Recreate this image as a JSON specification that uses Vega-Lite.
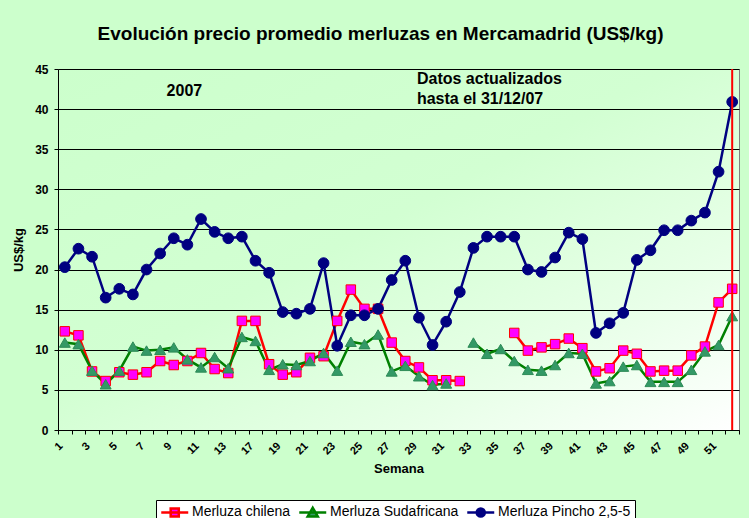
{
  "$schema": "https://vega.github.io/schema/vega-lite/v6.json",
  "width": 681,
  "height": 361,
  "autosize": "none",
  "padding": {"left": 58, "top": 69, "right": 10, "bottom": 88},
  "background": "#CCFFCC",
  "title": {"text": "Evolución precio promedio merluzas en Mercamadrid (US$/kg)", "font": "Liberation Sans", "fontSize": 19, "fontWeight": "bold", "color": "#000000", "anchor": "middle", "offset": 19, "dx": -18},
  "view": {"fill": {"gradient": "linear", "x1": 0, "y1": 0, "x2": 1, "y2": 1, "stops": [{"offset": 0, "color": "#CCFFCC"}, {"offset": 0.45, "color": "#D2FFD2"}, {"offset": 0.75, "color": "#E8FFE8"}, {"offset": 1, "color": "#FFFFFF"}]}, "stroke": "#808080", "strokeWidth": 1},
  "config": {
    "axis": {"labelFont": "Liberation Sans", "titleFont": "Liberation Sans", "labelColor": "#000000", "titleColor": "#000000", "labelFontWeight": "bold", "titleFontWeight": "bold", "domainColor": "#000000", "tickColor": "#000000", "tickSize": 4}
  },
  "data": {"values": [
    {"semana": "1", "Merluza chilena": 12.3, "Merluza Sudafricana": 10.9, "Merluza Pincho 2,5-5": 20.3},
    {"semana": "2", "Merluza chilena": 11.8, "Merluza Sudafricana": 10.7, "Merluza Pincho 2,5-5": 22.6},
    {"semana": "3", "Merluza chilena": 7.3, "Merluza Sudafricana": 7.4, "Merluza Pincho 2,5-5": 21.6},
    {"semana": "4", "Merluza chilena": 6.1, "Merluza Sudafricana": 5.7, "Merluza Pincho 2,5-5": 16.5},
    {"semana": "5", "Merluza chilena": 7.2, "Merluza Sudafricana": 7.4, "Merluza Pincho 2,5-5": 17.6},
    {"semana": "6", "Merluza chilena": 6.9, "Merluza Sudafricana": 10.4, "Merluza Pincho 2,5-5": 16.9},
    {"semana": "7", "Merluza chilena": 7.2, "Merluza Sudafricana": 9.9, "Merluza Pincho 2,5-5": 20.0},
    {"semana": "8", "Merluza chilena": 8.6, "Merluza Sudafricana": 10.0, "Merluza Pincho 2,5-5": 22.0},
    {"semana": "9", "Merluza chilena": 8.1, "Merluza Sudafricana": 10.3, "Merluza Pincho 2,5-5": 23.9},
    {"semana": "10", "Merluza chilena": 8.6, "Merluza Sudafricana": 8.8, "Merluza Pincho 2,5-5": 23.1},
    {"semana": "11", "Merluza chilena": 9.6, "Merluza Sudafricana": 7.8, "Merluza Pincho 2,5-5": 26.3},
    {"semana": "12", "Merluza chilena": 7.6, "Merluza Sudafricana": 9.1, "Merluza Pincho 2,5-5": 24.7},
    {"semana": "13", "Merluza chilena": 7.1, "Merluza Sudafricana": 7.7, "Merluza Pincho 2,5-5": 23.9},
    {"semana": "15", "Merluza chilena": 13.6, "Merluza Sudafricana": 11.6, "Merluza Pincho 2,5-5": 24.1},
    {"semana": "17", "Merluza chilena": 13.6, "Merluza Sudafricana": 11.1, "Merluza Pincho 2,5-5": 21.1},
    {"semana": "18", "Merluza chilena": 8.2, "Merluza Sudafricana": 7.5, "Merluza Pincho 2,5-5": 19.6},
    {"semana": "19", "Merluza chilena": 6.9, "Merluza Sudafricana": 8.2, "Merluza Pincho 2,5-5": 14.7},
    {"semana": "20", "Merluza chilena": 7.2, "Merluza Sudafricana": 8.1, "Merluza Pincho 2,5-5": 14.5},
    {"semana": "21", "Merluza chilena": 9.0, "Merluza Sudafricana": 8.6, "Merluza Pincho 2,5-5": 15.1},
    {"semana": "22", "Merluza chilena": 9.2, "Merluza Sudafricana": 9.6, "Merluza Pincho 2,5-5": 20.8},
    {"semana": "23", "Merluza chilena": 13.6, "Merluza Sudafricana": 7.4, "Merluza Pincho 2,5-5": 10.5},
    {"semana": "24", "Merluza chilena": 17.5, "Merluza Sudafricana": 11.0, "Merluza Pincho 2,5-5": 14.3},
    {"semana": "25", "Merluza chilena": 15.1, "Merluza Sudafricana": 10.7, "Merluza Pincho 2,5-5": 14.3},
    {"semana": "26", "Merluza chilena": 15.1, "Merluza Sudafricana": 11.9, "Merluza Pincho 2,5-5": 15.1},
    {"semana": "27", "Merluza chilena": 10.9, "Merluza Sudafricana": 7.3, "Merluza Pincho 2,5-5": 18.7},
    {"semana": "28", "Merluza chilena": 8.6, "Merluza Sudafricana": 8.0, "Merluza Pincho 2,5-5": 21.1},
    {"semana": "29", "Merluza chilena": 7.8, "Merluza Sudafricana": 6.7, "Merluza Pincho 2,5-5": 14.0},
    {"semana": "30", "Merluza chilena": 6.2, "Merluza Sudafricana": 5.6, "Merluza Pincho 2,5-5": 10.6},
    {"semana": "31", "Merluza chilena": 6.2, "Merluza Sudafricana": 5.8, "Merluza Pincho 2,5-5": 13.5},
    {"semana": "32", "Merluza chilena": 6.1, "Merluza Sudafricana": null, "Merluza Pincho 2,5-5": 17.2},
    {"semana": "33", "Merluza chilena": null, "Merluza Sudafricana": 10.9, "Merluza Pincho 2,5-5": 22.7},
    {"semana": "34", "Merluza chilena": null, "Merluza Sudafricana": 9.5, "Merluza Pincho 2,5-5": 24.1},
    {"semana": "35", "Merluza chilena": null, "Merluza Sudafricana": 10.1, "Merluza Pincho 2,5-5": 24.1},
    {"semana": "36", "Merluza chilena": 12.1, "Merluza Sudafricana": 8.6, "Merluza Pincho 2,5-5": 24.1},
    {"semana": "37", "Merluza chilena": 9.9, "Merluza Sudafricana": 7.5, "Merluza Pincho 2,5-5": 20.0},
    {"semana": "38", "Merluza chilena": 10.3, "Merluza Sudafricana": 7.4, "Merluza Pincho 2,5-5": 19.7},
    {"semana": "39", "Merluza chilena": 10.7, "Merluza Sudafricana": 8.1, "Merluza Pincho 2,5-5": 21.5},
    {"semana": "40", "Merluza chilena": 11.4, "Merluza Sudafricana": 9.6, "Merluza Pincho 2,5-5": 24.6},
    {"semana": "41", "Merluza chilena": 10.2, "Merluza Sudafricana": 9.5, "Merluza Pincho 2,5-5": 23.8},
    {"semana": "42", "Merluza chilena": 7.3, "Merluza Sudafricana": 5.8, "Merluza Pincho 2,5-5": 12.1},
    {"semana": "43", "Merluza chilena": 7.7, "Merluza Sudafricana": 6.1, "Merluza Pincho 2,5-5": 13.3},
    {"semana": "44", "Merluza chilena": 9.9, "Merluza Sudafricana": 7.9, "Merluza Pincho 2,5-5": 14.6},
    {"semana": "45", "Merluza chilena": 9.5, "Merluza Sudafricana": 8.1, "Merluza Pincho 2,5-5": 21.2},
    {"semana": "46", "Merluza chilena": 7.3, "Merluza Sudafricana": 6.0, "Merluza Pincho 2,5-5": 22.4},
    {"semana": "47", "Merluza chilena": 7.4, "Merluza Sudafricana": 6.0, "Merluza Pincho 2,5-5": 24.9},
    {"semana": "48", "Merluza chilena": 7.4, "Merluza Sudafricana": 6.0, "Merluza Pincho 2,5-5": 24.9},
    {"semana": "49", "Merluza chilena": 9.3, "Merluza Sudafricana": 7.5, "Merluza Pincho 2,5-5": 26.1},
    {"semana": "50", "Merluza chilena": 10.4, "Merluza Sudafricana": 9.8, "Merluza Pincho 2,5-5": 27.1},
    {"semana": "51", "Merluza chilena": 15.9, "Merluza Sudafricana": 10.6, "Merluza Pincho 2,5-5": 32.2},
    {"semana": "52", "Merluza chilena": 17.6, "Merluza Sudafricana": 14.2, "Merluza Pincho 2,5-5": 40.9}
  ]},
  "transform": [{"fold": ["Merluza chilena", "Merluza Sudafricana", "Merluza Pincho 2,5-5"], "as": ["serie", "precio"]}],
  "layer": [
    {
      "mark": {"type": "line", "strokeWidth": 2.5, "invalid": "break-paths-show-domains"},
      "encoding": {
        "x": {"field": "semana", "type": "ordinal",
          "scale": {"type": "band", "paddingInner": 0, "paddingOuter": 0, "domain": ["1","2","3","4","5","6","7","8","9","10","11","12","13","15","17","18","19","20","21","22","23","24","25","26","27","28","29","30","31","32","33","34","35","36","37","38","39","40","41","42","43","44","45","46","47","48","49","50","51","52"]},
          "axis": {"title": "Semana", "titleFontSize": 13, "titlePadding": 6, "labelFontSize": 11, "labelAngle": -45, "labelAlign": "right", "labelBaseline": "middle", "labelPadding": 10, "labelOffset": -4, "tickBand": "extent", "labelOverlap": false, "labelBound": false, "labelFlush": false, "grid": false,
            "labelExpr": "indexof(['1','3','5','7','9','11','13','17','19','21','23','25','27','29','31','33','35','37','39','41','43','45','47','49','51'], datum.value) >= 0 ? datum.label : ''"}},
        "y": {"field": "precio", "type": "quantitative", "scale": {"domain": [0, 45], "nice": false},
          "axis": {"title": "US$/kg", "titleFontSize": 13, "titlePadding": 9, "labelFontSize": 12, "labelPadding": 6, "values": [0, 5, 10, 15, 20, 25, 30, 35, 40, 45], "grid": true, "gridColor": "#000000", "gridWidth": 1}},
        "stroke": {"field": "serie", "type": "nominal",
          "scale": {"domain": ["Merluza chilena", "Merluza Sudafricana", "Merluza Pincho 2,5-5"], "range": ["#FF0000", "#008000", "#000080"]},
          "legend": {"title": null, "orient": "none", "legendX": 98, "legendY": 431, "direction": "horizontal", "fillColor": "#FFFFFF", "strokeColor": "#000000", "padding": 4,
            "labelFont": "Liberation Sans", "labelFontSize": 14, "labelColor": "#000000", "symbolSize": 182, "labelOffset": 16, "columnPadding": 3, "symbolStrokeWidth": 2.5, "symbolOpacity": 1,
            "symbolType": {"expr": "datum.value === 'Merluza chilena' ? 'M-1,0H3M0.4,-0.6H1.6V0.6H0.4Z' : datum.value === 'Merluza Sudafricana' ? 'M-1,0H3M1,-0.7L1.75,0.6H0.25Z' : 'M-1,0H3M0.4,0A0.6,0.6 0 1,0 1.6,0A0.6,0.6 0 1,0 0.4,0Z'"},
            "symbolFillColor": {"expr": "datum.value === 'Merluza chilena' ? '#FF00FF' : datum.value === 'Merluza Sudafricana' ? '#339966' : '#000080'"}}
        }
      }
    },
    {
      "transform": [{"filter": "datum.serie === 'Merluza chilena'"}],
      "mark": {"type": "point", "shape": "square", "filled": true, "opacity": 1, "fill": "#FF00FF", "stroke": "#FF0000", "strokeWidth": 1, "size": 90},
      "encoding": {"x": {"field": "semana", "type": "ordinal"}, "y": {"field": "precio", "type": "quantitative"}}
    },
    {
      "transform": [{"filter": "datum.serie === 'Merluza Sudafricana'"}],
      "mark": {"type": "point", "shape": "triangle-up", "filled": true, "opacity": 1, "fill": "#339966", "stroke": "#2E8B57", "strokeWidth": 1, "size": 120},
      "encoding": {"x": {"field": "semana", "type": "ordinal"}, "y": {"field": "precio", "type": "quantitative"}}
    },
    {
      "transform": [{"filter": "datum.serie === 'Merluza Pincho 2,5-5'"}],
      "mark": {"type": "point", "shape": "circle", "filled": true, "opacity": 1, "fill": "#000080", "stroke": "#000080", "strokeWidth": 1, "size": 115},
      "encoding": {"x": {"field": "semana", "type": "ordinal"}, "y": {"field": "precio", "type": "quantitative"}}
    },
    {
      "data": {"values": [{"semana": "52"}]},
      "mark": {"type": "rule", "color": "#FF0000", "strokeWidth": 2},
      "encoding": {"x": {"field": "semana", "type": "ordinal"}}
    },
    {
      "data": {"values": [{"semana": "10", "nivel": 42.3, "texto": "2007"}]},
      "mark": {"type": "text", "font": "Liberation Sans", "fontSize": 16, "fontWeight": "bold", "color": "#000000", "align": "center", "baseline": "middle", "dx": -3},
      "encoding": {"x": {"field": "semana", "type": "ordinal"}, "y": {"field": "nivel", "type": "quantitative"}, "text": {"field": "texto"}}
    },
    {
      "data": {"values": [{"semana": "29", "nivel": 43.75, "texto": "Datos actualizados"}, {"semana": "29", "nivel": 41.25, "texto": "hasta el 31/12/07"}]},
      "mark": {"type": "text", "font": "Liberation Sans", "fontSize": 16, "fontWeight": "bold", "color": "#000000", "align": "left", "baseline": "middle", "dx": -2},
      "encoding": {"x": {"field": "semana", "type": "ordinal"}, "y": {"field": "nivel", "type": "quantitative"}, "text": {"field": "texto"}}
    }
  ]
}
